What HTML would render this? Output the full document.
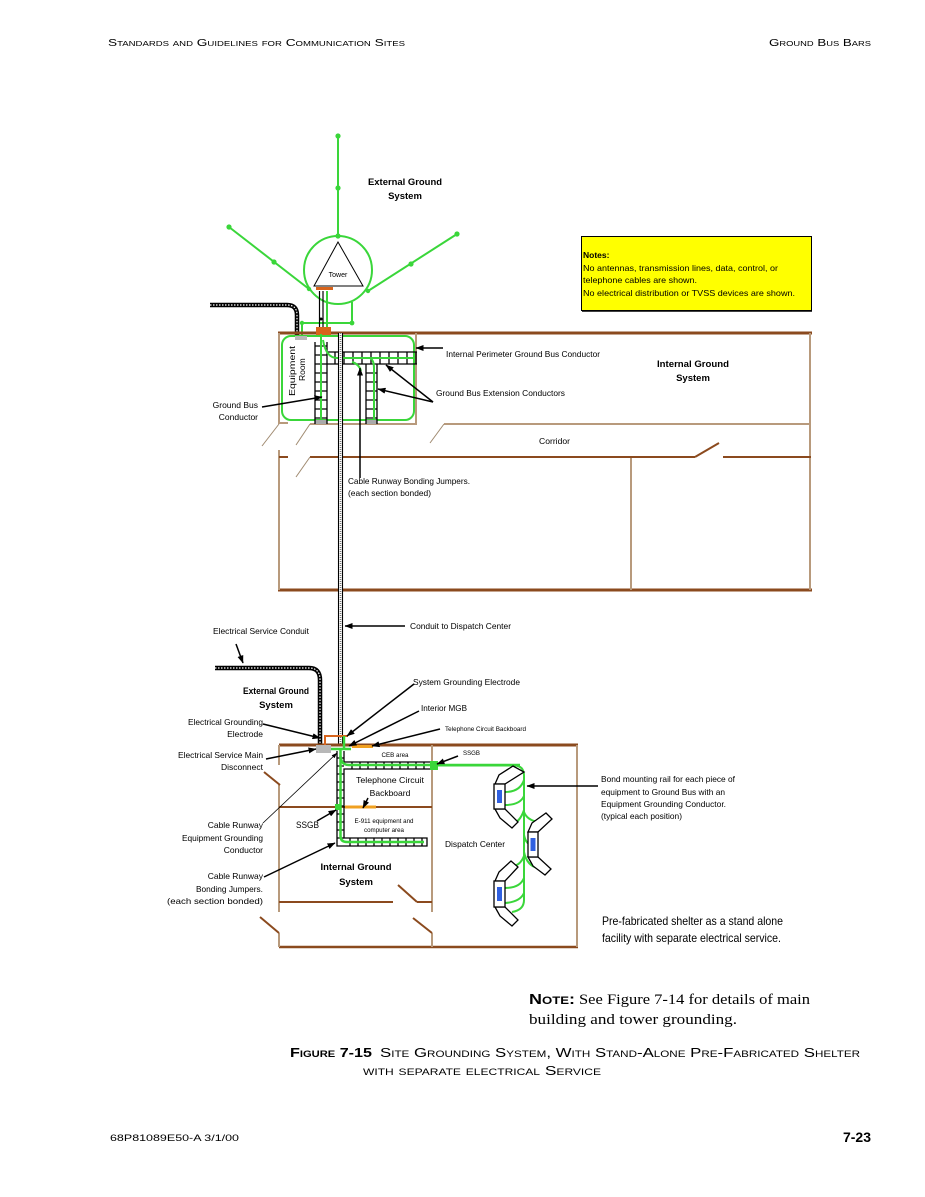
<!DOCTYPE html>
<html><head><meta charset="utf-8"><style>
html,body{margin:0;padding:0;background:#fff;}
svg{display:block;}
text{font-family:"Liberation Sans",Arial,sans-serif;fill:#000;}
.s{font-size:8.5px;}
.b{font-size:9.5px;font-weight:bold;}
.t{font-size:6px;}
.serif{font-family:"Liberation Serif","Times New Roman",serif;}
</style></head><body>
<svg width="925" height="1197" viewBox="0 0 925 1197" xmlns="http://www.w3.org/2000/svg">
<defs>
<marker id="a" markerWidth="8" markerHeight="6" refX="7.5" refY="3" orient="auto" markerUnits="userSpaceOnUse"><path d="M0,0 L8,3 L0,6 z" fill="#000"/></marker>
<marker id="a2" markerWidth="6" markerHeight="4" refX="5.5" refY="2" orient="auto" markerUnits="userSpaceOnUse"><path d="M0,0 L6,2 L0,4 z" fill="#000"/></marker>
</defs>

<!-- Header -->
<text x="108" y="46" style="font-size:10px;font-variant:small-caps" textLength="297" lengthAdjust="spacingAndGlyphs">Standards  and Guidelines for Communication Sites</text>
<text x="871" y="46" text-anchor="end" style="font-size:10px;font-variant:small-caps" textLength="102" lengthAdjust="spacingAndGlyphs">Ground Bus Bars</text>

<!-- ===== Tower / External ground ===== -->
<g stroke="#3ad63a" stroke-width="2" fill="none">
<line x1="338" y1="136" x2="338" y2="236"/>
<line x1="229" y1="227" x2="309" y2="289"/>
<line x1="457" y1="234" x2="368" y2="291"/>
<circle cx="338" cy="270" r="34"/>
<line x1="327" y1="291" x2="327" y2="333"/>
<path d="M352,302 V323 H302 V335"/>
</g>
<g fill="#3ad63a">
<circle cx="338" cy="136" r="2.6"/><circle cx="338" cy="188" r="2.6"/><circle cx="338" cy="236" r="2.6"/>
<circle cx="229" cy="227" r="2.6"/><circle cx="274" cy="262" r="2.6"/>
<circle cx="457" cy="234" r="2.6"/><circle cx="411" cy="264" r="2.6"/>
<circle cx="309" cy="289" r="2.2"/><circle cx="368" cy="291" r="2.2"/>
<circle cx="352" cy="323" r="2.4"/><circle cx="302" cy="323" r="2.2"/>
</g>
<polygon points="338,242 314,286 363,286" fill="#fff" stroke="#000" stroke-width="1"/>
<text x="338" y="277" text-anchor="middle" style="font-size:7px">Tower</text>
<line x1="316" y1="288.5" x2="333" y2="288.5" stroke="#d8641c" stroke-width="3"/>
<line x1="319.5" y1="291" x2="319.5" y2="331" stroke="#000" stroke-width="1.2"/>
<line x1="323" y1="291" x2="323" y2="331" stroke="#000" stroke-width="1.2"/>
<circle cx="321" cy="319" r="1.5" fill="#000"/>
<text x="405" y="185" text-anchor="middle" class="b" textLength="74" lengthAdjust="spacingAndGlyphs">External Ground</text>
<text x="405" y="199" text-anchor="middle" class="b">System</text>

<!-- upper electrical conduit -->
<path d="M210,305 H287 Q297,305 297,315 V337" fill="none" stroke="#000" stroke-width="4.5"/>
<path d="M210,305 H287 Q297,305 297,315 V337" fill="none" stroke="#fff" stroke-width="1.2" stroke-dasharray="1.5 1.5"/>

<!-- Notes -->
<rect x="581.5" y="236.5" width="230" height="74" fill="#ffff00" stroke="#000" stroke-width="1"/>
<line x1="582" y1="311" x2="812" y2="311" stroke="#000" stroke-width="1.5"/>
<text x="583" y="258" style="font-size:8.5px;font-weight:bold">Notes:</text>
<text x="583" y="271" class="s" textLength="195" lengthAdjust="spacingAndGlyphs">No antennas, transmission lines, data, control, or</text>
<text x="583" y="283" class="s" textLength="114" lengthAdjust="spacingAndGlyphs">telephone cables are shown.</text>
<text x="583" y="296" class="s" textLength="212" lengthAdjust="spacingAndGlyphs">No electrical distribution or TVSS devices are shown.</text>

<!-- ===== Upper building walls ===== -->
<g fill="none" stroke-linecap="butt">
<line x1="278" y1="333" x2="812" y2="333" stroke="#8b4a1e" stroke-width="3"/>
<line x1="278" y1="590" x2="812" y2="590" stroke="#8b4a1e" stroke-width="3"/>
<g stroke="#b89a7c" stroke-width="2">
<line x1="279" y1="333" x2="279" y2="424"/>
<line x1="279" y1="450" x2="279" y2="590"/>
<line x1="810" y1="333" x2="810" y2="590"/>
<line x1="416" y1="333" x2="416" y2="424"/>
<line x1="631" y1="457" x2="631" y2="590"/>
<line x1="444" y1="424" x2="811" y2="424"/>
<line x1="279" y1="423" x2="288" y2="423"/>
<line x1="310" y1="424" x2="417" y2="424"/>
</g>
<g stroke="#8b4a1e" stroke-width="2">
<line x1="279" y1="457" x2="288" y2="457"/>
<line x1="310" y1="457" x2="695" y2="457"/>
<line x1="723" y1="457" x2="811" y2="457"/>
<line x1="695" y1="457" x2="719" y2="443"/>
</g>
<g stroke="#a08a70" stroke-width="1">
<line x1="262" y1="446" x2="279" y2="424"/>
<line x1="296" y1="445" x2="310" y2="424"/>
<line x1="296" y1="477" x2="310" y2="457"/>
<line x1="430" y1="443" x2="444" y2="424"/>
</g>
</g>

<!-- Equipment room -->
<rect x="282" y="336" width="132" height="84" rx="9" fill="none" stroke="#3ad63a" stroke-width="2"/>
<rect x="295" y="336" width="12" height="4" fill="#b8b8b8"/>
<rect x="316" y="327" width="15" height="8" fill="#d8641c"/>
<rect x="315" y="420" width="12" height="4" fill="#aaa"/>
<rect x="366" y="420" width="11" height="4" fill="#aaa"/>
<g stroke="#000" stroke-width="1.3" fill="none">
<line x1="315" y1="342" x2="315" y2="424"/><line x1="327" y1="342" x2="327" y2="424"/>
<path d="M315,346h12M315,355h12M315,364h12M315,373h12M315,382h12M315,391h12M315,400h12M315,409h12M315,418h12"/>
<line x1="327" y1="352" x2="417" y2="352"/><line x1="327" y1="364" x2="417" y2="364"/>
<path d="M335,352v12M344,352v12M353,352v12M362,352v12M371,352v12M380,352v12M389,352v12M398,352v12M407,352v12M416,352v12"/>
<line x1="366" y1="364" x2="366" y2="424"/><line x1="377" y1="364" x2="377" y2="424"/>
<path d="M366,373h11M366,382h11M366,391h11M366,400h11M366,409h11M366,418h11"/>
</g>
<g stroke="#3ad63a" stroke-width="2" fill="none">
<line x1="321" y1="334" x2="321" y2="420"/>
<path d="M323,340 Q326,358 337,358 H414"/>
<path d="M370,358 Q374,360 374,368 V420"/>
<path d="M352,362 Q359,364 361,371"/>
</g>
<!-- conduit to dispatch -->
<rect x="338.5" y="333" width="4" height="412" fill="#fff"/>
<line x1="340.5" y1="333" x2="340.5" y2="745" stroke="#777" stroke-width="1.6" stroke-dasharray="1 1"/>
<line x1="338.5" y1="333" x2="338.5" y2="745" stroke="#000" stroke-width="1.1"/>
<line x1="342.5" y1="333" x2="342.5" y2="745" stroke="#000" stroke-width="1.1"/>

<text transform="translate(295,396) rotate(-90)" class="s" textLength="50" lengthAdjust="spacingAndGlyphs">Equipment</text>
<text transform="translate(305,381) rotate(-90)" class="s">Room</text>

<!-- upper labels -->
<g stroke="#000" stroke-width="1.5" fill="none" marker-end="url(#a)">
<line x1="443" y1="348" x2="416" y2="348"/>
<line x1="433" y1="402" x2="386" y2="365"/>
<line x1="433" y1="402" x2="378" y2="389"/>
<line x1="262" y1="407" x2="322" y2="397"/>
<line x1="360" y1="478" x2="360" y2="368"/>
</g>
<text x="446" y="357" class="s" textLength="154" lengthAdjust="spacingAndGlyphs">Internal Perimeter Ground Bus Conductor</text>
<text x="436" y="396" class="s" textLength="129" lengthAdjust="spacingAndGlyphs">Ground Bus Extension Conductors</text>
<text x="258" y="408" text-anchor="end" class="s">Ground Bus</text>
<text x="258" y="420" text-anchor="end" class="s">Conductor</text>
<text x="348" y="484" class="s" textLength="122" lengthAdjust="spacingAndGlyphs">Cable Runway Bonding Jumpers.</text>
<text x="348" y="496" class="s" textLength="83" lengthAdjust="spacingAndGlyphs">(each section bonded)</text>
<text x="539" y="444" class="s" textLength="31" lengthAdjust="spacingAndGlyphs">Corridor</text>
<text x="693" y="367" text-anchor="middle" class="b" textLength="72" lengthAdjust="spacingAndGlyphs">Internal Ground</text>
<text x="693" y="381" text-anchor="middle" class="b">System</text>

<!-- ===== middle labels ===== -->
<text x="213" y="634" class="s" textLength="96" lengthAdjust="spacingAndGlyphs">Electrical Service Conduit</text>
<line x1="236" y1="644" x2="243" y2="663" stroke="#000" stroke-width="1.5" marker-end="url(#a)"/>
<text x="410" y="629" class="s" textLength="101" lengthAdjust="spacingAndGlyphs">Conduit to Dispatch Center</text>
<line x1="405" y1="626" x2="345" y2="626" stroke="#000" stroke-width="1.5" marker-end="url(#a)"/>

<!-- lower electrical conduit -->
<path d="M215,668 H309 Q320,668 320,680 V746" fill="none" stroke="#000" stroke-width="4.5"/>
<path d="M215,668 H309 Q320,668 320,680 V746" fill="none" stroke="#fff" stroke-width="1.2" stroke-dasharray="1.5 1.5"/>

<!-- ===== Lower shelter walls ===== -->
<g fill="none">
<line x1="279" y1="745" x2="578" y2="745" stroke="#8b4a1e" stroke-width="3"/>
<line x1="279" y1="947" x2="578" y2="947" stroke="#8b4a1e" stroke-width="2.5"/>
<g stroke="#b89a7c" stroke-width="2">
<line x1="279" y1="745" x2="279" y2="765"/>
<line x1="279" y1="785" x2="279" y2="912"/>
<line x1="279" y1="933" x2="279" y2="947"/>
<line x1="432" y1="745" x2="432" y2="912"/>
<line x1="432" y1="933" x2="432" y2="947"/>
<line x1="577" y1="745" x2="577" y2="947"/>
</g>
<g stroke="#8b4a1e" stroke-width="2">
<line x1="279" y1="807" x2="432" y2="807"/>
<line x1="279" y1="902" x2="393" y2="902"/>
<line x1="417" y1="902" x2="432" y2="902"/>
<line x1="398" y1="885" x2="417" y2="902"/>
<line x1="264" y1="772" x2="280" y2="785"/>
<line x1="260" y1="917" x2="279" y2="933"/>
<line x1="413" y1="918" x2="432" y2="933"/>
</g>
</g>

<!-- electrode, MGB, etc -->
<path d="M325,746 V736 H348" fill="none" stroke="#d8641c" stroke-width="2"/>
<rect x="316" y="745" width="15" height="8" fill="#b8b8b8"/>
<line x1="352" y1="746.5" x2="373" y2="746.5" stroke="#f0a020" stroke-width="3"/>
<line x1="345" y1="807" x2="376" y2="807" stroke="#f0a020" stroke-width="3"/>

<!-- runway -->
<g stroke="#000" stroke-width="1.3" fill="none">
<path d="M337,751 V846 H427 V838 H344 V769 H433 V762 H344 V751"/>
<path d="M337,758h7M337,766h7M337,774h7M337,782h7M337,790h7M337,798h7M337,806h7M337,814h7M337,822h7M337,830h7M337,838h7"/>
<path d="M350,838v8M358,838v8M366,838v8M374,838v8M382,838v8M390,838v8M398,838v8M406,838v8M414,838v8M422,838v8"/>
<path d="M352,762v7M360,762v7M368,762v7M376,762v7M384,762v7M392,762v7M400,762v7M408,762v7M416,762v7M424,762v7"/>
</g>
<g stroke="#3ad63a" stroke-width="2.5" fill="none">
<line x1="331" y1="749" x2="351" y2="749"/>
<path d="M344,736 V749"/>
<path d="M340.5,750 V836 Q340.5,842 347,842 H424"/>
<path d="M340.5,756 Q341,765 349,765 H520"/>
</g>
<rect x="430" y="761" width="8" height="9" fill="#3ad63a"/>
<rect x="335" y="804" width="6" height="6" fill="#3ad63a"/>

<!-- dispatch bus -->
<g stroke="#3ad63a" stroke-width="2" fill="none">
<path d="M434,765.5 H514 Q524,765.5 524,776 V900 Q524,910 512,912"/>
<path d="M524,780 Q520,792 505,792"/>
<path d="M524,796 Q520,805 505,805"/>
<path d="M524,810 Q520,822 512,824"/>
<path d="M524,812 Q527,820 538,822"/>
<path d="M524,835 Q526,845 533,845"/>
<path d="M524,852 Q527,866 538,868"/>
<path d="M524,856 Q520,866 512,866"/>
<path d="M524,878 Q520,888 505,888"/>
<path d="M524,893 Q520,902 505,903"/>
</g>
<!-- consoles -->
<g stroke="#000" stroke-width="1.3" fill="#fff">
<polygon points="495,784 499,775 513,766 524,772 505,784"/>
<polygon points="495,809 500,818 512,828 518,822 505,809"/>
<rect x="494" y="784" width="11" height="25"/>
<polygon points="528,832 532,823 546,813 552,819 538,832"/>
<polygon points="528,857 533,866 545,875 551,869 538,857"/>
<rect x="528" y="832" width="10" height="25"/>
<polygon points="495,881 499,872 511,861 518,867 505,881"/>
<polygon points="495,907 500,916 512,926 518,920 505,907"/>
<rect x="494" y="881" width="11" height="26"/>
</g>
<g fill="#3060e0">
<rect x="497" y="790" width="5" height="13"/>
<rect x="530.5" y="838" width="5" height="13"/>
<rect x="497" y="887" width="5" height="14"/>
</g>

<!-- lower labels -->
<g stroke="#000" stroke-width="1.5" fill="none" marker-end="url(#a)">
<line x1="414" y1="684" x2="347" y2="736"/>
<line x1="419" y1="711" x2="349" y2="746"/>
<line x1="440" y1="729" x2="372" y2="746"/>
<line x1="263" y1="724" x2="320" y2="738"/>
<line x1="266" y1="759" x2="316" y2="749"/>
<line x1="458" y1="756" x2="437" y2="764"/>
<line x1="368" y1="798" x2="363" y2="808"/>
<line x1="317" y1="821" x2="336" y2="810"/>
<line x1="264" y1="877" x2="335" y2="843"/>
<line x1="598" y1="786" x2="527" y2="786"/>
</g>
<line x1="263" y1="823" x2="337" y2="753" stroke="#000" stroke-width="0.8" marker-end="url(#a2)"/>

<text x="413" y="685" class="s" textLength="107" lengthAdjust="spacingAndGlyphs">System Grounding Electrode</text>
<text x="421" y="711" class="s" textLength="46" lengthAdjust="spacingAndGlyphs">Interior MGB</text>
<text x="445" y="731" class="t" textLength="81" lengthAdjust="spacingAndGlyphs">Telephone Circuit Backboard</text>
<text x="276" y="694" text-anchor="middle" class="b" textLength="66" lengthAdjust="spacingAndGlyphs">External Ground</text>
<text x="276" y="708" text-anchor="middle" class="b">System</text>
<text x="263" y="725" text-anchor="end" class="s" textLength="75" lengthAdjust="spacingAndGlyphs">Electrical Grounding</text>
<text x="263" y="737" text-anchor="end" class="s">Electrode</text>
<text x="263" y="758" text-anchor="end" class="s" textLength="85" lengthAdjust="spacingAndGlyphs">Electrical Service Main</text>
<text x="263" y="770" text-anchor="end" class="s">Disconnect</text>
<text x="395" y="757" text-anchor="middle" class="t" textLength="27" lengthAdjust="spacingAndGlyphs">CEB area</text>
<text x="463" y="755" style="font-size:6.5px" textLength="17" lengthAdjust="spacingAndGlyphs">SSGB</text>
<text x="390" y="783" text-anchor="middle" class="s" textLength="68" lengthAdjust="spacingAndGlyphs">Telephone Circuit</text>
<text x="390" y="796" text-anchor="middle" class="s">Backboard</text>
<text x="384" y="823" text-anchor="middle" class="t" textLength="59" lengthAdjust="spacingAndGlyphs">E-911 equipment and</text>
<text x="384" y="832" text-anchor="middle" class="t" textLength="40" lengthAdjust="spacingAndGlyphs">computer area</text>
<text x="296" y="828" style="font-size:9px" textLength="23" lengthAdjust="spacingAndGlyphs">SSGB</text>
<text x="445" y="847" class="s" textLength="60" lengthAdjust="spacingAndGlyphs">Dispatch Center</text>
<text x="356" y="870" text-anchor="middle" class="b" textLength="71" lengthAdjust="spacingAndGlyphs">Internal Ground</text>
<text x="356" y="885" text-anchor="middle" class="b">System</text>
<text x="263" y="828" text-anchor="end" class="s">Cable Runway</text>
<text x="263" y="841" text-anchor="end" class="s" textLength="81" lengthAdjust="spacingAndGlyphs">Equipment Grounding</text>
<text x="263" y="853" text-anchor="end" class="s">Conductor</text>
<text x="263" y="879" text-anchor="end" class="s">Cable Runway</text>
<text x="263" y="892" text-anchor="end" class="s" textLength="67" lengthAdjust="spacingAndGlyphs">Bonding Jumpers.</text>
<text x="263" y="904" text-anchor="end" class="s" textLength="96" lengthAdjust="spacingAndGlyphs">(each section bonded)</text>
<text x="601" y="782" class="s" textLength="134" lengthAdjust="spacingAndGlyphs">Bond mounting rail for each piece of</text>
<text x="601" y="795" class="s" textLength="124" lengthAdjust="spacingAndGlyphs">equipment to Ground Bus with an</text>
<text x="601" y="807" class="s" textLength="125" lengthAdjust="spacingAndGlyphs">Equipment Grounding Conductor.</text>
<text x="601" y="819" class="s" textLength="81" lengthAdjust="spacingAndGlyphs">(typical each position)</text>
<text x="602" y="925" style="font-size:12px" textLength="181" lengthAdjust="spacingAndGlyphs">Pre-fabricated shelter as a stand alone</text>
<text x="602" y="942" style="font-size:12px" textLength="179" lengthAdjust="spacingAndGlyphs">facility with separate electrical service.</text>

<!-- NOTE -->
<text x="529" y="1004" style="font-size:15px;font-weight:bold;font-variant:small-caps" textLength="46" lengthAdjust="spacingAndGlyphs">Note:</text>
<text x="579" y="1004" class="serif" style="font-size:14.5px" textLength="231" lengthAdjust="spacingAndGlyphs">See Figure 7-14 for details of main</text>
<text x="529" y="1024" class="serif" style="font-size:14.5px" textLength="208" lengthAdjust="spacingAndGlyphs">building and tower grounding.</text>

<!-- Caption -->
<text x="290" y="1057" style="font-size:13px;font-weight:bold;font-variant:small-caps" textLength="82" lengthAdjust="spacingAndGlyphs">Figure 7-15</text>
<text x="380" y="1057" style="font-size:13px;font-variant:small-caps" textLength="480" lengthAdjust="spacingAndGlyphs">Site Grounding System, With Stand-Alone Pre-Fabricated Shelter</text>
<text x="363" y="1075" style="font-size:13px;font-variant:small-caps" textLength="238" lengthAdjust="spacingAndGlyphs">with separate electrical Service</text>

<!-- Footer -->
<text x="110" y="1141" style="font-size:9px" textLength="129" lengthAdjust="spacingAndGlyphs">68P81089E50-A   3/1/00</text>
<text x="871" y="1142" text-anchor="end" style="font-size:14px;font-weight:bold" textLength="28" lengthAdjust="spacingAndGlyphs">7-23</text>
</svg>
</body></html>
